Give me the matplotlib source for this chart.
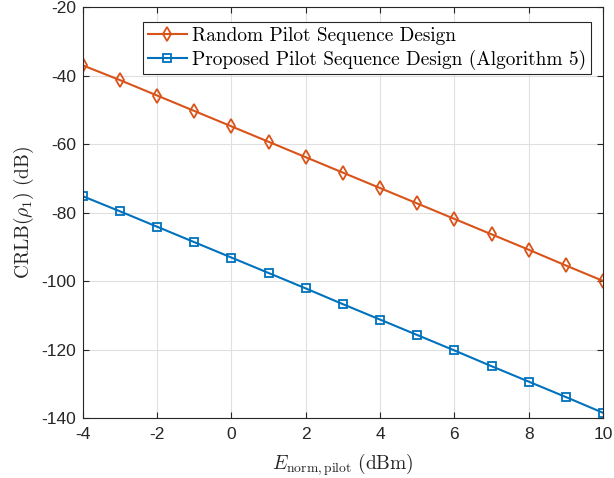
import numpy as np
import matplotlib.pyplot as plt
from matplotlib.ticker import FuncFormatter

plt.rcParams['mathtext.fontset'] = 'cm'
plt.rcParams['font.family'] = ['Liberation Sans', 'DejaVu Sans']

e_pilot = [-4, -3, -2, -1, 0, 1, 2, 3, 4, 5, 6, 7, 8, 9, 10]
crlb_random = [-37, -41.3, -45.8, -50.3, -54.8, -59.3, -63.8, -68.3, -72.8, -77.3, -81.8, -86.3, -90.8, -95.4, -99.9]
crlb_proposed = [-75.2, -79.6, -84.1, -88.6, -93.1, -97.6, -102.1, -106.7, -111.2, -115.7, -120.2, -124.8, -129.3, -133.8, -138.4]

orange = '#D95319'
blue = '#0072BD'

fig = plt.figure(figsize=(6.14, 4.78), dpi=100)
ax = fig.add_axes([0.135, 0.125, 0.847, 0.86])

ax.plot(e_pilot, crlb_random, color=orange, lw=1.5, marker='d', ms=7,
        mfc='none', mec=orange, mew=1.3, label='Random Pilot Sequence Design')
ax.plot(e_pilot, crlb_proposed, color=blue, lw=1.5, marker='s', ms=5.5,
        mfc='none', mec=blue, mew=1.3,
        label='Proposed Pilot Sequence Design (Algorithm 5)')

ax.set_xlim(-4, 10)
ax.set_ylim(-140, -20)
ax.set_xticks(range(-4, 11, 2))
ax.set_yticks(range(-140, -19, 20))
fmt = FuncFormatter(lambda v, p: '%d' % v)
ax.xaxis.set_major_formatter(fmt)
ax.yaxis.set_major_formatter(fmt)
ax.tick_params(labelsize=12.5, colors='#262626', direction='in', length=4, width=0.8)
ax.tick_params(axis='x', pad=6)
ax.tick_params(axis='y', pad=5)
ax.tick_params(top=True, right=True)
ax.grid(True, color='#e0e0e0', lw=0.8)
ax.set_axisbelow(True)
for s in ax.spines.values():
    s.set_color('#262626')
    s.set_linewidth(0.8)

ax.set_xlabel(r'$E_{\mathrm{norm,pilot}}\ \mathrm{(dBm)}$', fontsize=14, color='#262626', labelpad=7)
ax.set_ylabel(r'$\mathrm{CRLB}(\rho_1)\ \mathrm{(dB)}$', fontsize=14, color='#262626', labelpad=4)

leg = ax.legend(loc='upper left', bbox_to_anchor=(0.116, 0.963),
                prop={'family': 'cmr10', 'size': 13.9}, fancybox=False,
                edgecolor='#262626', framealpha=1, handlelength=2.0,
                borderpad=0.25, labelspacing=0.22, handletextpad=0.3, borderaxespad=0)
leg.get_frame().set_linewidth(0.8)

fig.savefig('out.png', dpi=100)
